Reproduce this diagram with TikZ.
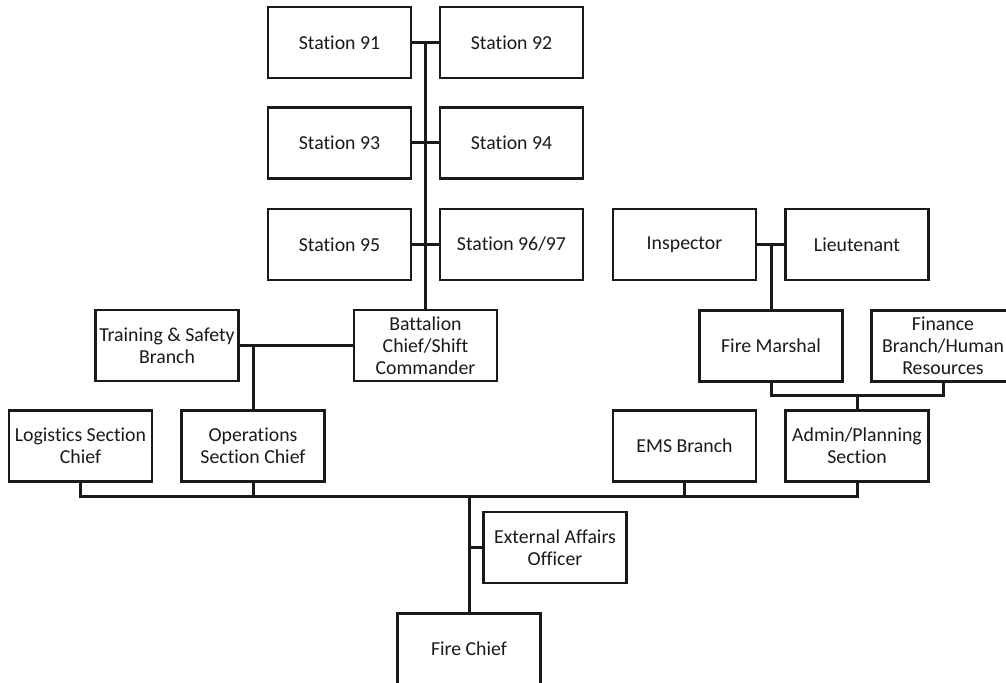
\documentclass[tikz,border=0pt]{standalone}
\usepackage{fontspec}
\setmainfont{Carlito}[Ligatures=NoCommon]
\usetikzlibrary{calc,positioning}
\definecolor{Ink}{HTML}{1A1A1A}
\tikzset{
  post/.style={
    draw=Ink, line width=1.3pt, fill=white, text=Ink,
    minimum width=71.5pt, minimum height=35.5pt, inner sep=1pt,
    align=center, font=\fontsize{9.9}{11}\selectfont
  },
  link/.style={draw=Ink, line width=1.5pt}
}

\begin{document}
\begin{tikzpicture}[x=0.5pt,y=-0.5pt]
    \useasboundingbox (0,0) rectangle (1006,683);
    % stations
    \node[post] (s91) at (339.5,42.5) {Station 91};
    \node[post] (s92) at (511.5,42.5) {Station 92};
    \node[post] (s93) at (339.5,143) {Station 93};
    \node[post] (s94) at (511.5,143) {Station 94};
    \node[post] (s95) at (339.5,244.5) {Station 95};
    \node[post] (s96) at (511.5,244.5) {Station 96/97};
    % operations side
    \node[post] (bat) at (425.5,345.5) {Battalion\\Chief/Shift\\Commander};
    \node[post] (trn) at (167,345.5) {Training \& Safety\\Branch};
    \node[post] (log) at (80.5,446) {Logistics Section\\Chief};
    \node[post] (ops) at (253,446) {Operations\\Section Chief};
    % admin side
    \node[post] (insp) at (684.5,244.5) {Inspector};
    \node[post] (lt) at (857,244.5) {Lieutenant};
    \node[post] (fm) at (771,346) {Fire Marshal};
    \node[post] (fin) at (943,346) {Finance\\Branch/Human\\Resources};
    \node[post] (ems) at (684.5,446) {EMS Branch};
    \node[post] (adm) at (857,446) {Admin/Planning\\Section};
    % top of the chart
    \node[post] (ext) at (555,547.5) {External Affairs\\Officer};
    \node[post] (chief) at (469,649) {Fire Chief};
    \coordinate (bus) at (469,497);
    \coordinate (brk) at (857,396);

    \draw[link] (s91)--(s92);
    \draw[link] (s93)--(s94);
    \draw[link] (s95)--(s96);
    \draw[link] (bat.north)--(bat.north |- s91.east);
    \draw[link] (trn)--(bat);
    \draw[link] (ops.north)--(ops.north |- trn.east);
    \draw[link] (insp)--(lt);
    \draw[link] (fm.north)--(fm.north |- insp.east);
    \draw[link] (fm.south) |- (brk) -| (fin.south);
    \draw[link] (adm.north)--(brk);
    \draw[link] (log.south) |- (bus) -| (adm.south);
    \draw[link] (ops.south)--(ops.south |- bus);
    \draw[link] (ems.south)--(ems.south |- bus);
    \draw[link] (chief.north)--(bus);
    \draw[link] (ext.west)--(ext.west -| bus);
  \end{tikzpicture}
\end{document}
